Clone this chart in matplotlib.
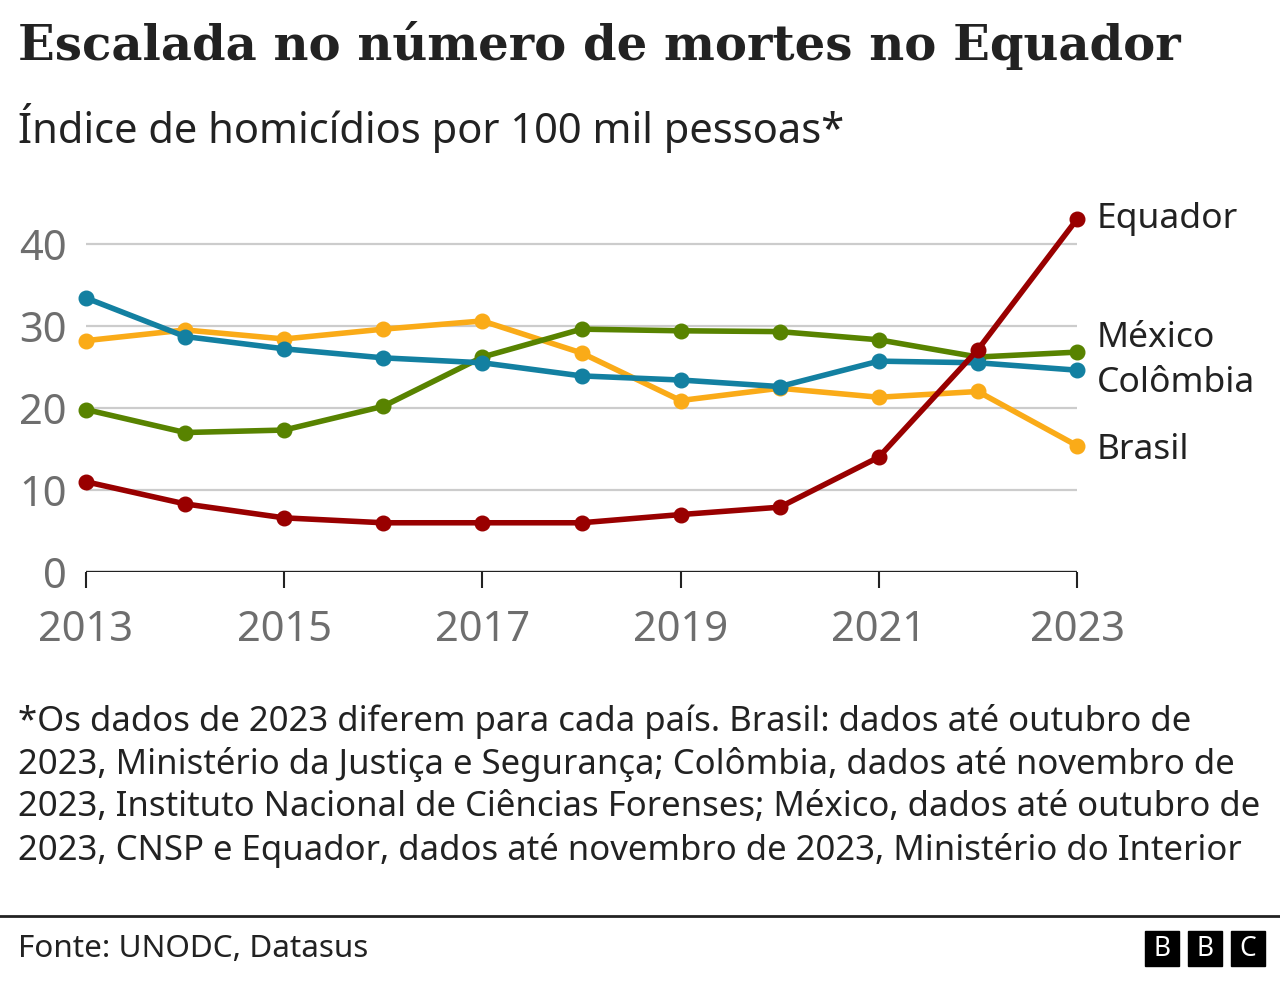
import matplotlib.pyplot as plt

# dados
anos = list(range(2013, 2024))
equador = [11.0, 8.3, 6.6, 6.0, 6.0, 6.0, 7.0, 7.9, 14.0, 27.1, 43.0]
colombia = [33.4, 28.7, 27.2, 26.1, 25.5, 23.9, 23.4, 22.6, 25.7, 25.5, 24.6]
brasil = [28.2, 29.5, 28.4, 29.6, 30.6, 26.7, 20.9, 22.4, 21.3, 22.0, 15.4]
mexico = [19.8, 17.0, 17.3, 20.2, 26.2, 29.6, 29.4, 29.3, 28.3, 26.2, 26.8]

series = [("Brasil", brasil, "#FAAB18"),
          ("México", mexico, "#588300"),
          ("Colômbia", colombia, "#1380A1"),
          ("Equador", equador, "#990000")]
rotulo_y = {"Equador": 43.0, "México": 28.5, "Colômbia": 23.0, "Brasil": 14.9}

yticks = [0, 10, 20, 30, 40]
xticks = [2013, 2015, 2017, 2019, 2021, 2023]

W, H = 1280, 996
plt.rcParams['font.family'] = ['Noto Sans', 'DejaVu Sans']
fig = plt.figure(figsize=(W / 100, H / 100), dpi=100)

def fy(y):
    return 1 - y / H

# eixo: 2013 em x=86, 2023 em x=1077; 0 em y=572, 40 em y=244
ax = fig.add_axes([86 / W, fy(572), (1077 - 86) / W, (572 - 211) / H])
ax.set_xlim(2013, 2023)
ax.set_ylim(0, 44)

for y in yticks[1:]:
    ax.axhline(y, color="#cccccc", lw=1.6, zorder=1)
ax.axhline(0, color="#222222", lw=2.4, zorder=2)

for nome, vals, cor in series:
    ax.plot(anos, vals, color=cor, lw=4, marker="o", ms=10.5, zorder=3, clip_on=False)
    ax.annotate(nome, (2023, rotulo_y[nome]), xytext=(14, 0), textcoords="offset points",
                va="center", ha="left", fontsize=25.5, color="#222222", annotation_clip=False)

for s in ax.spines.values():
    s.set_visible(False)
ax.set_yticks(yticks)
ax.set_xticks(xticks)
ax.set_xticklabels([str(x) for x in xticks])
ax.tick_params(axis="y", length=0, pad=14, labelsize=30, labelcolor="#6e6e6e")
ax.tick_params(axis="x", length=11.5, width=1.5, color="#222222", pad=15, labelsize=30,
               labelcolor="#6e6e6e")

fig.text(18 / W, fy(45), "Escalada no número de mortes no Equador", fontsize=34.7,
         fontweight="bold", family=["DejaVu Serif"], color="#222222", va="center", ha="left")
fig.text(18 / W, fy(128), "Índice de homicídios por 100 mil pessoas*", fontsize=30,
         color="#222222", va="center", ha="left")

nota = ("*Os dados de 2023 diferem para cada país. Brasil: dados até outubro de\n"
        "2023, Ministério da Justiça e Segurança; Colômbia, dados até novembro de\n"
        "2023, Instituto Nacional de Ciências Forenses; México, dados até outubro de\n"
        "2023, CNSP e Equador, dados até novembro de 2023, Ministério do Interior")
fig.text(18 / W, fy(704), nota, fontsize=25, color="#222222", va="top", ha="left",
         linespacing=1.31)

fig.add_artist(plt.Line2D([0, 1], [fy(916), fy(916)], color="#222222", lw=2))
fig.text(18 / W, fy(949), "Fonte: UNODC, Datasus", fontsize=22.7, color="#222222",
         va="center", ha="left")

for i, letra in enumerate("BBC"):
    x0 = 1145 + i * 43
    fig.add_artist(plt.Rectangle((x0 / W, fy(966)), 34 / W, 35 / H, color="black"))
    fig.text((x0 + 17) / W, fy(949), letra, fontsize=19, fontweight="bold", color="white",
             va="center", ha="center")

fig.savefig("out.png", dpi=100)
